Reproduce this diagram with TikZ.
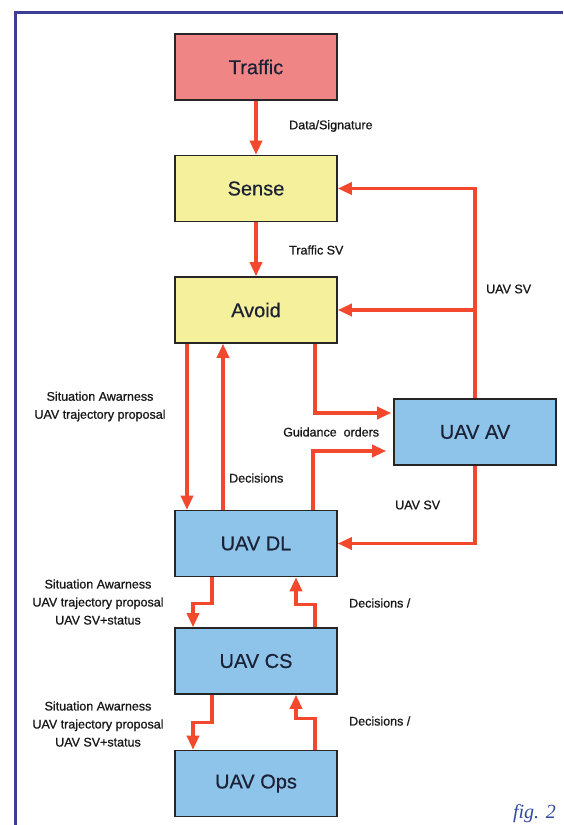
\documentclass[tikz,border=0pt]{standalone}
\usepackage{fontspec}
\setmainfont{Liberation Sans}
\newfontface\lblfont{Liberation Sans}[RawFeature={embolden=0.9}]
\newfontface\boxfont{Liberation Sans}[RawFeature={embolden=0.5}]
\newfontfamily\figfont{Liberation Serif}
\usetikzlibrary{arrows.meta}
\definecolor{trafficred}{HTML}{F08585}
\definecolor{senseyellow}{HTML}{F5F09C}
\definecolor{uavblue}{HTML}{8EC3EA}
\definecolor{arrowred}{HTML}{F2482E}
\definecolor{framebl}{HTML}{3E3E96}
\definecolor{boxtext}{HTML}{1C2236}
\definecolor{figblue}{HTML}{2F4A9F}
\begin{document}
\begin{tikzpicture}[x=1pt,y=-1pt,
 box/.style={draw=black!85, line width=1.6pt, minimum width=162pt, minimum height=66pt, inner sep=0pt, font=\boxfont\fontsize{20}{24}\selectfont, text=boxtext},
 arr/.style={draw=arrowred, line width=3.3pt, -{Triangle[length=14pt,width=12pt]}},
 lbl/.style={font=\lblfont\fontsize{12.5}{18}\selectfont, text=black!90, inner sep=0pt},
]
\useasboundingbox (0,0) rectangle (563,825);
\fill[white] (0,0) rectangle (563,825);
\draw[framebl, line width=3pt] (15,825) -- (15,12) -- (563,12);

\node[box, fill=trafficred] (traffic) at (256,67) {Traffic};
\node[box, fill=senseyellow] (sense) at (256,188.5) {Sense};
\node[box, fill=senseyellow] (avoid) at (256,310) {Avoid};
\node[box, fill=uavblue] (uavav) at (475,432) {UAV AV};
\node[box, fill=uavblue] (uavdl) at (256,543.5) {UAV DL};
\node[box, fill=uavblue] (uavcs) at (256,661) {UAV CS};
\node[box, fill=uavblue] (uavops) at (256,783.5) {UAV Ops};

% vertical main chain
\draw[arr] (traffic.south) -- (sense.north);
\draw[arr] (sense.south) -- (avoid.north);
% UAV SV feedback
\draw[arr] (uavav.north) |- (sense.east);
\draw[arr] (uavav.north |- avoid.east) -- (avoid.east);
\draw[arr] (uavav.south) |- (uavdl.east);
% guidance orders
\draw[arr] ([xshift=59pt]avoid.south) |- ([yshift=19pt,xshift=-2pt]uavav.west);
\draw[arr] ([xshift=57pt]uavdl.north) |- ([yshift=-19pt,xshift=-7pt]uavav.west);
% avoid <-> DL
\draw[arr] ([xshift=-69pt]avoid.south) -- ([xshift=-69pt]uavdl.north);
\draw[arr] ([xshift=-33pt]uavdl.north) -- ([xshift=-33pt]avoid.south);
% DL <-> CS
\draw[arr] ([xshift=-44pt]uavdl.south) -- ++(0,26) -| ([xshift=-63pt]uavcs.north);
\draw[arr] ([xshift=59pt]uavcs.north) -- ++(0,-23) -| ([xshift=40pt]uavdl.south);
% CS <-> Ops
\draw[arr] ([xshift=-44pt]uavcs.south) -- ++(0,28) -| ([xshift=-63pt]uavops.north);
\draw[arr] ([xshift=59pt]uavops.north) -- ++(0,-31) -| ([xshift=40pt]uavcs.south);

% labels
\node[lbl, anchor=west] (l1) at (289,126) {Data/Signature};
\node[lbl, anchor=west] (l2) at (289,250) {Traffic SV};
\node[lbl, anchor=west] (l3) at (486,289) {UAV SV};
\node[lbl, anchor=west] (l4) at (395,505) {UAV SV};
\node[lbl, align=center] (l5) at (100,406.5) {Situation Awarness\\UAV trajectory proposal};
\node[lbl, anchor=west] (l6) at (283,432) {Guidance~ orders};
\node[lbl, anchor=west] (l7) at (229,478) {Decisions};
\node[lbl, align=center] (l8) at (98,602) {Situation Awarness\\UAV trajectory proposal\\UAV SV+status};
\node[lbl, align=center] (l9) at (98,724) {Situation Awarness\\UAV trajectory proposal\\UAV SV+status};
\node[lbl, anchor=west] (l10) at (349,603) {Decisions /};
\node[lbl, anchor=west] (l11) at (349,721) {Decisions /};
\node[anchor=base east, inner sep=0pt, text=figblue, font=\figfont\itshape\fontsize{20}{24}\selectfont] (fig) at (556,818) {fig. 2};
\end{tikzpicture}
\end{document}
